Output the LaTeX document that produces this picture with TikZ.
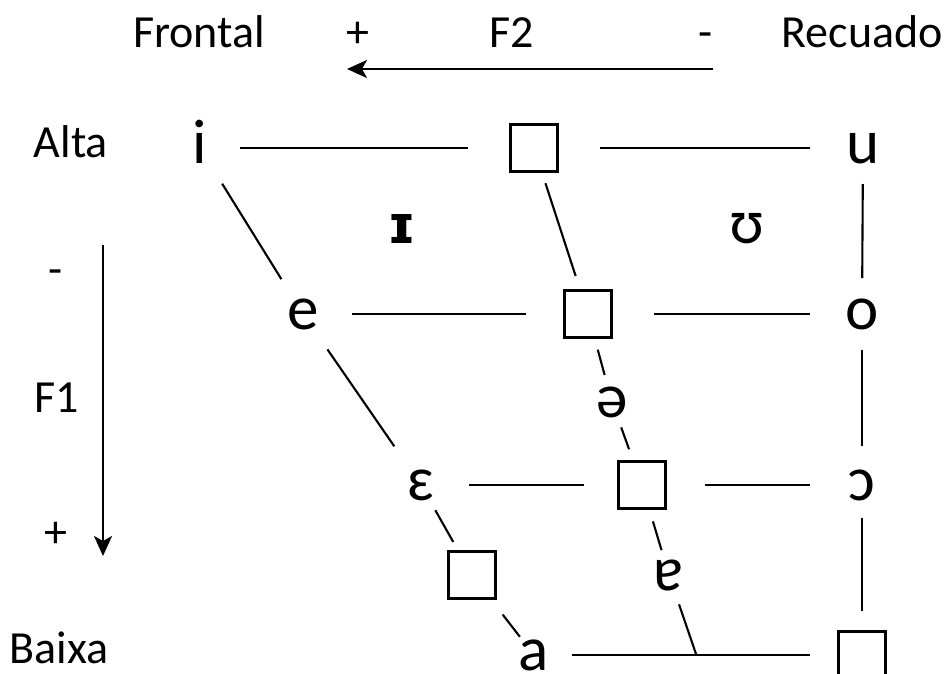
\documentclass[tikz,border=0pt]{standalone}
\usepackage{fontspec}
\setmainfont{Carlito}
\newfontfamily\ipafont{DejaVu Sans}
\usetikzlibrary{arrows.meta}
\tikzset{
  lbl/.style={font=\fontsize{46}{50}\selectfont, anchor=base, inner sep=0pt},
  vow/.style={font=\fontsize{63}{66}\selectfont, anchor=base, inner sep=0pt,
              text height=30pt, text depth=0pt},
  sq/.style={draw, line width=2.1pt, minimum size=47pt, inner sep=0pt},
  ln/.style={line width=2.1pt},
  axis/.style={line width=2.1pt, -{Stealth[length=20pt, width=18pt, inset=5pt]}}
}
\begin{document}
\begin{tikzpicture}[x=1pt, y=-1pt]
\useasboundingbox (0,0) rectangle (945,673);

% axis labels
\node[lbl] (frontal) at (199,47) {Frontal};
\node[lbl] (plustop) at (358,47) {+};
\node[lbl] (ftwo)    at (512,47) {F2};
\node[lbl] (mintop)  at (706,47) {-};
\node[lbl] (recuado) at (862,47) {Recuado};
\node[lbl] (alta)    at (71,157) {Alta};
\node[lbl] (minleft) at (56,284) {-};
\node[lbl] (fone)    at (57,412) {F1};
\node[lbl] (plusleft) at (56,547) {+};
\node[lbl] (baixa)   at (59,663) {Baixa};

% axis arrows
\coordinate (f2s) at (713,69);
\coordinate (f2e) at (347,69);
\coordinate (f1s) at (103,245);
\coordinate (f1e) at (103,556);
\draw[axis] (f2s) -- (f2e);
\draw[axis] (f1s) -- (f1e);

% vowels
\node[vow] (i)  at (200,163) {i};
\node[vow] (u)  at (863,163) {u};
\node[vow] (e)  at (303,329) {e};
\node[vow] (o)  at (862,329) {o};
\node[vow] (eh) at (421,500) {ɛ};
\node[vow] (oh) at (862,500) {ɔ};
\node[vow] (a)  at (534,670) {a};
\node[vow] (sw) at (612,417) {ə};
\node[vow] (ta) at (669,590) {ɐ};
\node[vow, font=\ipafont\bfseries\fontsize{53}{56}\selectfont] (ih) at (402,243) {ɪ};
\node[vow] (uh) at (747,243) {ʊ};

% empty cells
\node[sq] (b1) at (534,148) {};
\node[sq] (b2) at (588,314) {};
\node[sq] (b3) at (642,485) {};
\node[sq] (b4) at (862,655) {};
\node[sq] (b5) at (472,575) {};

\coordinate (j) at (696,654);

% grid lines
\draw[ln, shorten <=40pt, shorten >=66pt] (i.center) -- (b1.center);
\draw[ln, shorten <=66pt, shorten >=53pt] (b1.center) -- (u.center);
\draw[ln, shorten <=42pt, shorten >=41pt] (i.center) -- (e.center);
\draw[ln, shorten <=49pt, shorten >=62pt] (e.center) -- (b2.center);
\draw[ln, shorten <=37pt, shorten >=40pt] (b1.center) -- (b2.center);
\draw[ln, shorten <=66pt, shorten >=52pt] (b2.center) -- (o.center);
\draw[ln, shorten <=36pt, shorten >=36pt] (u.center) -- (o.center);
\draw[ln, shorten <=37pt, shorten >=28pt] (b2.center) -- (sw.center);
\draw[ln, shorten <=27pt, shorten >=38pt] (sw.center) -- (b3.center);
\draw[ln, shorten <=43pt, shorten >=47pt] (e.center) -- (eh.center);
\draw[ln, shorten <=48pt, shorten >=58pt] (eh.center) -- (b3.center);
\draw[ln, shorten <=63pt, shorten >=52pt] (b3.center) -- (oh.center);
\draw[ln, shorten <=36pt, shorten >=39pt] (o.center) -- (oh.center);
\draw[ln, shorten <=33pt, shorten >=44pt] (oh.center) -- (b4.center);
\draw[ln, shorten <=29pt, shorten >=38pt] (eh.center) -- (b5.center);
\draw[ln, shorten <=50pt, shorten >=23pt] (b5.center) -- (a.center);
\draw[ln, shorten <=38pt, shorten >=52pt] (a.center) -- (b4.center);
\draw[ln, shorten <=38pt, shorten >=26pt] (b3.center) -- (ta.center);
\draw[ln, shorten <=31pt] (ta.center) -- (j);
\end{tikzpicture}
\end{document}
